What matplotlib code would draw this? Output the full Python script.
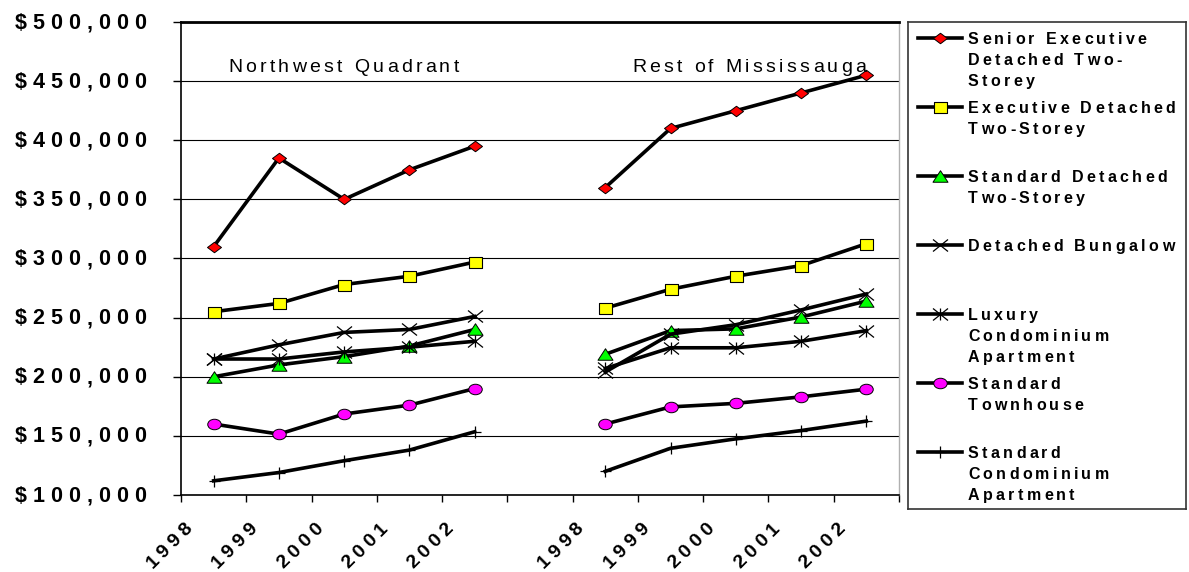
import numpy as np
import matplotlib
matplotlib.use("Agg")
import matplotlib.pyplot as plt
from matplotlib.path import Path
from matplotlib.font_manager import FontProperties, findfont
from matplotlib.ft2font import FT2Font
from matplotlib.transforms import offset_copy
from matplotlib.lines import Line2D

# ---------------------------------------------------------------- data
years = ["1998", "1999", "2000", "2001", "2002"]
regions = ["Northwest Quadrant", "Rest of Mississauga"]
series_names = [
    "Senior Executive Detached Two-Storey",
    "Executive Detached Two-Storey",
    "Standard Detached Two-Storey",
    "Detached Bungalow",
    "Luxury Condominium Apartment",
    "Standard Townhouse",
    "Standard Condominium Apartment",
]
legend_lines = [
    ["Senior Executive", "Detached Two-", "Storey"],
    ["Executive Detached", "Two-Storey"],
    ["Standard Detached", "Two-Storey"],
    ["Detached Bungalow"],
    ["Luxury", "Condominium", "Apartment"],
    ["Standard", "Townhouse"],
    ["Standard", "Condominium", "Apartment"],
]

senior_exec_nw = [310000, 385000, 350000, 375000, 395000]
senior_exec_rest = [360000, 410000, 425000, 440000, 455000]
exec_nw = [255000, 262000, 278000, 285000, 297000]
exec_rest = [258000, 274000, 285000, 294000, 312500]
std_detached_nw = [200000, 210000, 217000, 226000, 240000]
std_detached_rest = [219000, 239000, 240500, 250500, 264000]
bungalow_nw = [215000, 227000, 237500, 240000, 251000]
bungalow_rest = [204000, 236000, 244000, 256500, 270000]
luxury_nw = [215000, 215000, 221000, 225000, 230000]
luxury_rest = [207000, 224500, 224500, 230000, 239000]
townhouse_nw = [160000, 151500, 168500, 176000, 190000]
townhouse_rest = [160000, 174500, 177500, 183000, 189500]
std_condo_nw = [112000, 119000, 129000, 138000, 153500]
std_condo_rest = [120000, 139500, 147500, 154500, 162500]

y_ticks = [100000, 150000, 200000, 250000, 300000, 350000, 400000, 450000, 500000]

# ---------------------------------------------------------------- markers
def poly_marker(verts):
    verts = list(verts) + [verts[0]]
    codes = [Path.MOVETO] + [Path.LINETO] * (len(verts) - 2) + [Path.CLOSEPOLY]
    return Path(verts, codes)


def seg_marker(segments):
    verts, codes = [], []
    for a, b in segments:
        verts += [a, b]
        codes += [Path.MOVETO, Path.LINETO]
    return Path(verts, codes)


def diamond(w, h):
    return poly_marker([(0, h / 2), (w / 2, 0), (0, -h / 2), (-w / 2, 0)])


def rect(w, h):
    return poly_marker([(-w / 2, -h / 2), (w / 2, -h / 2), (w / 2, h / 2), (-w / 2, h / 2)])


def tri(w, h):
    return poly_marker([(-w / 2, -h / 2), (w / 2, -h / 2), (0, h / 2)])


def ellipse(w, h):
    c = Path.unit_circle()
    return Path(c.vertices * np.array([w / 2, h / 2]), c.codes)


def cross(w, h):
    return seg_marker([((-w / 2, -h / 2), (w / 2, h / 2)), ((-w / 2, h / 2), (w / 2, -h / 2))])


def star(w, h):
    return seg_marker([((-w / 2, -h / 2), (w / 2, h / 2)), ((-w / 2, h / 2), (w / 2, -h / 2)),
                       ((0, -h / 2), (0, h / 2))])


def plus(w, h):
    return seg_marker([((-w / 2, 0), (w / 2, 0)), ((0, -h / 2), (0, h / 2))])


PX = 0.72  # points per pixel at 100 dpi
styles = [
    dict(marker=diamond(14, 10.5), ms=14 * PX, mfc="#ff0000", mec="black", mew=0.7),
    dict(marker=rect(13, 11), ms=13 * PX, mfc="#ffff00", mec="black", mew=0.8),
    dict(marker=tri(15, 11.5), ms=15 * PX, mfc="#00ff00", mec="black", mew=0.7),
    dict(marker=cross(15, 12), ms=15 * PX, mfc="none", mec="black", mew=0.9),
    dict(marker=star(15, 12), ms=15 * PX, mfc="none", mec="black", mew=0.9),
    dict(marker=ellipse(13.5, 10.5), ms=13.5 * PX, mfc="#ff00ff", mec="black", mew=0.7),
    dict(marker=plus(11, 12), ms=12 * PX, mfc="none", mec="black", mew=0.9),
]
nw_values = [senior_exec_nw, exec_nw, std_detached_nw, bungalow_nw,
             luxury_nw, townhouse_nw, std_condo_nw]
rest_values = [senior_exec_rest, exec_rest, std_detached_rest, bungalow_rest,
               luxury_rest, townhouse_rest, std_condo_rest]

# ---------------------------------------------------------------- letter-spaced text
def spaced_text(ax, x, y, s, transform, prop, track, ha="left", rotation=0.0,
                dx=0.0, dy=0.0, color="black"):
    """Draw s one glyph at a time with extra tracking (points); anchor is the
    cap-height centre of the string's start/centre/end."""
    font = FT2Font(findfont(prop))
    size = prop.get_size_in_points()
    font.set_size(size, 72)
    adv = [font.load_char(ord(ch)).linearHoriAdvance / 65536.0 for ch in s]
    total = sum(adv) + track * (len(s) - 1)
    pos = {"left": 0.0, "center": -total / 2.0, "right": -total}[ha]
    th = np.radians(rotation)
    c, sn = np.cos(th), np.sin(th)
    cap = 0.716 * size
    bx, by = sn * cap / 2.0, -c * cap / 2.0
    for ch, a in zip(s, adv):
        if not ch.isspace():
            tr = offset_copy(transform, fig=ax.figure, x=dx + bx + pos * c,
                             y=dy + by + pos * sn, units="points")
            ax.text(x, y, ch, transform=tr, fontproperties=prop, rotation=rotation,
                    rotation_mode="anchor", ha="left", va="baseline", color=color,
                    clip_on=False, zorder=6)
        pos += a + track


ytick_font = FontProperties(family="Liberation Sans", weight="bold", size=15.5)
xtick_font = FontProperties(family="Liberation Sans", weight="bold", size=14)
legend_font = FontProperties(family="Liberation Sans", weight="bold", size=11.5)
title_font = FontProperties(family="Liberation Sans", weight="normal", size=14)

# ---------------------------------------------------------------- figure
W, H = 1189, 572
fig = plt.figure(figsize=(W / 100, H / 100), dpi=100, facecolor="white")
ax = fig.add_axes([181 / W, (H - 495) / H, 718 / W, 473 / H])

n_cats = 2 * len(years) + 1
x_nw = np.arange(len(years)) + 0.5
x_rest = np.arange(len(years)) + len(years) + 1.5

for vals_nw, vals_rest, st in zip(nw_values, rest_values, styles):
    for xs, vs in ((x_nw, vals_nw), (x_rest, vals_rest)):
        ax.plot(xs, vs, color="black", lw=2.6, marker=st["marker"], ms=st["ms"],
                mfc=st["mfc"], mec=st["mec"], mew=st["mew"], solid_joinstyle="round",
                zorder=3)

ax.set_xlim(0, n_cats)
ax.set_ylim(y_ticks[0], y_ticks[-1])
ax.set_xticks(np.arange(n_cats + 1))
ax.set_yticks(y_ticks)
ax.set_xticklabels([])
ax.set_yticklabels([])
ax.tick_params(axis="y", direction="out", length=6, width=1.0, color="black")
ax.tick_params(axis="x", direction="out", length=5, width=1.0, color="black")
ax.yaxis.grid(True, color="black", lw=0.8)
ax.set_axisbelow(True)

for side in ("left", "bottom"):
    ax.spines[side].set_color("black")
    ax.spines[side].set_linewidth(1.2)
ax.spines["top"].set_color("black")
ax.spines["top"].set_linewidth(2.0)
ax.spines["right"].set_color("#b0b0b0")
ax.spines["right"].set_linewidth(1.0)

# y tick labels
for v in y_ticks:
    spaced_text(ax, 0, v, f"${v:,}", ax.get_yaxis_transform(), ytick_font, 4.3,
                ha="right", dx=-25.2, dy=0.8)

# x tick labels (one group per region, gap category left blank)
label_pos = list(range(len(years))) + list(range(len(years) + 1, n_cats))
for pos, lab in zip(label_pos, years + years):
    spaced_text(ax, pos, 0, lab, ax.get_xaxis_transform(), xtick_font, 3.3,
                ha="right", rotation=45, dx=5.0, dy=-21.0)

# region captions
spaced_text(ax, 0.0655, 0.908, regions[0], ax.transAxes, title_font, 2.4)
spaced_text(ax, 0.628, 0.908, regions[1], ax.transAxes, title_font, 2.4)

# ---------------------------------------------------------------- legend
lx0, ly0, lx1, ly1 = 908, 22, 1186, 509
lax = fig.add_axes([lx0 / W, (H - ly1) / H, (lx1 - lx0) / W, (ly1 - ly0) / H])
lax.set_xlim(0, lx1 - lx0)
lax.set_ylim(ly1 - ly0, 0)
lax.set_xticks([])
lax.set_yticks([])
for sp in lax.spines.values():
    sp.set_color("#333333")
    sp.set_linewidth(1.2)

entry_y = 16
for lines, st in zip(legend_lines, styles):
    lax.add_line(Line2D([10, 54], [entry_y, entry_y], color="black", lw=2.6))
    lax.add_line(Line2D([32], [entry_y], marker=st["marker"], ms=st["ms"],
                        mfc=st["mfc"], mec=st["mec"], mew=st["mew"], ls="none"))
    for k, txt in enumerate(lines):
        spaced_text(lax, 60, entry_y + 21.3 * k, txt, lax.transData, legend_font, 2.4)
    entry_y += 69

fig.savefig("out.png", dpi=100, facecolor="white")
